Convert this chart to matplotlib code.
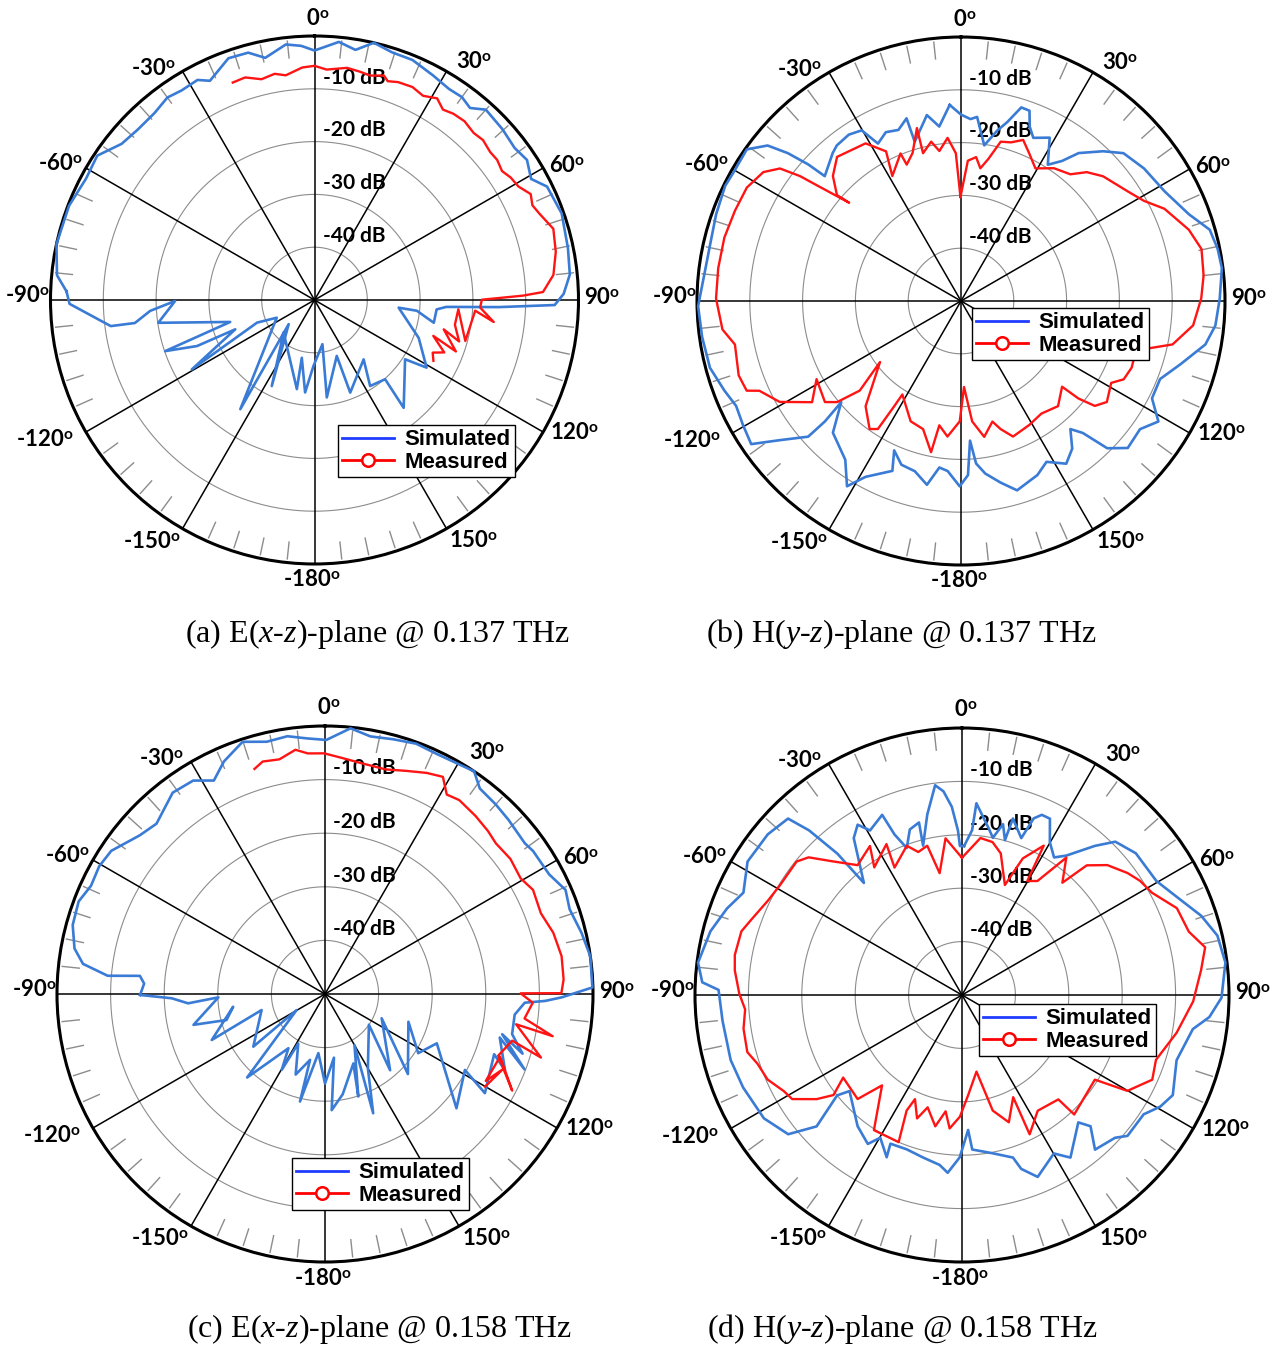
import numpy as np
import matplotlib.pyplot as plt
from matplotlib.lines import Line2D

plt.rcParams['mathtext.fontset'] = 'custom'
plt.rcParams['mathtext.rm'] = 'Lato:bold'
plt.rcParams['mathtext.it'] = 'Liberation Serif:italic'

# ---- data: (angle in deg, level in dB) ----
# (a) E-plane 0.137 THz
a_sim_th = [-88, -84.5, -77.8, -69, -62, -56.4, -51, -46, -40.6, -36, -32.4, -28, -25.5, -19.6, -15,
            -11.5, -6.4, -3, 0, 5.4, 9.3, 13, 17.4, 22.2, 27.8, 32.5, 36, 39, 42, 47.7, 52.8, 56.6,
            60.8, 64, 70.7, 78.4, 84.3, 88.6, 91.2, 92.2, 93, 94.4, 100.8, 96, 95.2, 110, 121.1,
            123.2, 140.4, 138.3, 147.1, 140.4, 158.9, 158.3, 172.8, 169.8, -179.1, -174.2, -167.6,
            -168.8, -136.5, -153.6, -133.1, -145.8, -115.1, -111.5, -119.5, -110.3, -111.4, -108.9,
            -104.6, -98.3, -90.4, -93.8, -97.3, -97.3, -90.9, -88]
a_sim_db = [-3.0, -1.0, 0, -0.2, -1.0, -0.6, -3, -3.5, -3.4, -2.6, -3, -2.8, -4, -1.4, -1.5,
            -3.2, -1.3, -1.8, -2.75, -0.9, -2.0, 0, -0.85, -0.9, -1.9, -2.6, -2.5, -3.2, -1.5, -1.9,
            -2.4, -1.8, -3, -1, -0.4, -1, -1.4, -2.8, -4.5, -15, -25, -26.8, -27, -30.5, -34, -29,
            -25.2, -29.5, -23.5, -29.9, -30.6, -35.4, -31.2, -38.6, -31.4, -41.5, -37.5, -32.4, -38.8,
            -32.8, -41.5, -31.8, -43.3, -25, -42.1, -38.3, -23.3, -34, -26.1, -20.1, -33.5, -20.1,
            -23.6, -18.8, -15.7, -11.1, -3.6, -3.0]
a_meas_th = [-20.6, -17.3, -13.5, -10, -7.3, -3, 0, 3, 8, 11.1, 14, 17.2, 18.5, 21, 24.7, 28, 31.3,
             34, 36.7, 40, 43.6, 46.5, 49.9, 52.5, 55.5, 58, 60.9, 63.9, 66.5, 68.9, 73.4, 78.7, 84,
             88, 88.8, 89.9, 92.6, 97, 93.8, 105.2, 93.7, 100, 106, 102.8, 110, 106.8, 112, 114, 117.1]
a_meas_db = [-6, -5.85, -7, -6.5, -7.1, -5.9, -5.65, -6.3, -5.6, -5.9, -6.2, -5.5, -6.3, -5.8, -5.6,
             -6.2, -5.3, -6.5, -6, -5.8, -6.3, -6.0, -6.5, -6.4, -6.9, -6.2, -5.8, -4.4, -5.0, -4.4,
             -2.8, -3.4, -4.5, -6.7, -10.5, -18.3, -18.6, -15.8, -19.5, -20.4, -22.7, -23.0, -21.5,
             -24.9, -21.5, -26.5, -23.5, -25.5, -24.7]

# (b) H-plane 0.137 THz
b_sim_th = [-3.3, 0, 3, 5, 8.5, 12, 14.5, 17.3, 19.8, 21.5, 23.9, 28.5, 32.5, 35.8, 38.5, 43.5, 47.7,
            54.1, 61.7, 69.2, 74, 78.5, 82.8, 89.5, 95.5, 100.1, 106, 111.4, 117, 121.4, 125.6, 131.4,
            135.2, 137.3, 139.5, 143, 147.1, 152, 156.3, 163.5, 167.7, 172, 174.7, 176.3, 177.7,
            -179.6, -175.5, -172.6, -169.5, -164.8, -160, -155.9, -158, -151.5, -148.4, -143.9,
            -135.8, -130.2, -131.5, -131.6, -127.5, -124.3, -119.6, -115, -110.8, -104.9, -97.9,
            -91.1, -84.4, -77.4, -70.5, -64, -60.8, -54.7, -51.2, -49.5, -48.2, -47.5, -40.9, -38.6,
            -34, -30.2, -27.8, -24, -20.1, -16.6, -16.2, -10.4, -7.1, -3.3]
b_sim_db = [-12.8, -14.7, -15.5, -15.0, -20.2, -17, -15, -11.6, -11.7, -14.5, -16.2, -14.8, -19.4,
            -17.3, -14.2, -10.9, -8.4, -7.2, -6.2, -3.8, -1, -0.4, -0.2, -1, -1.6, -3, -6.7, -9.5,
            -9.4, -6.2, -8.3, -7.9, -10.7, -16, -18.1, -15, -13.3, -15.5, -14, -12.6, -14.8, -17,
            -19.1, -23.5, -17, -14.9, -17.7, -18.2, -14.6, -16.6, -17, -19, -15.3, -12.1, -8.8,
            -12.8, -15.2, -20.3, -15.6, -11.3, -6.7, -1.9, -2.5, -3, -2.1, -0.8, -0.5, -0.2, -1.1,
            -1.3, -0.8, -0.3, -0.5, -0.3, -3, -6.9, -11.2, -15, -12.9, -12.3, -12.0, -12.6, -16.3,
            -15.0, -15.5, -13.9, -18.6, -14.2, -16.7, -12.8]
b_meas_th = [-0.3, 2.8, 6, 8.3, 10.9, 14, 17.5, 21.1, 24.8, 29.3, 35, 40.8, 44.3, 48.7, 56.7, 61.3,
             65.6, 72.6, 77.8, 84, 89.4, 96, 101.6, 105.8, 111.3, 115.7, 118.6, 124.7, 128.1, 129.7,
             130.3, 137.3, 144.5, 151.1, 159, 162.8, 165.4, 170.3, 174.7, 178, -179.4, -174.3,
             -170.1, -168.8, -163.5, -157.3, -147.9, -147.6, -147, -144.5, -137.8, -127, -131.5,
             -129.2, -126.6, -118.4, -124.2, -119.1, -114, -112.7, -108.5, -100.9, -96.8, -89.4,
             -82.3, -75, -68.2, -62.1, -56.9, -53.8, -52.2, -51, -48.7, -49.5, -45.7, -40.7, -31.2,
             -26.6, -28.8, -22.3, -21.7, -18.1, -14.3, -14.4, -10.6, -8.2, -4.7, -2, -0.3]
b_meas_db = [-30.3, -23.4, -22.6, -24.6, -22.6, -18.9, -18.5, -17.3, -19.2, -21.2, -19.3, -18.3,
             -15.9, -14.2, -12.2, -10.5, -7.7, -4.8, -3.4, -3.8, -4.5, -5.8, -9.1, -15.6, -15.3,
             -15.8, -17.6, -16.4, -17.8, -21.1, -24.9, -22.9, -23.8, -23.2, -22.5, -24.6, -26.4,
             -23.9, -27.1, -33.7, -27.2, -24.2, -26.1, -20.8, -24.7, -25.3, -29.1, -26.4, -21.1,
             -20.2, -23.1, -30.8, -24.4, -19.7, -17.9, -18.9, -15.9, -10.7, -8.2, -6, -5.6, -6.4,
             -4.5, -3.6, -3.6, -3.6, -3.9, -4.1, -5.3, -7.5, -11.4, -15.8, -21.8, -19.1, -16.1, -14,
             -15.1, -18.3, -23, -19.8, -22.2, -20.5, -16.2, -21.1, -19.3, -21.3, -19, -22, -30.3]

# (c) E-plane 0.158 THz
c_sim_th = [-90.3, -86.7, -84.4, -85.2, -82.9, -79.7, -74.7, -69.4, -65.2, -60.5, -56.2, -49.4,
            -44.7, -37.1, -31.7, -27.5, -23.5, -18.1, -13, -8.3, -4, 0.3, 5.5, 10, 15, 20, 25, 30,
            33.8, 37, 42, 46.5, 53, 55.5, 61.9, 66.6, 70.9, 76.6, 81.9, 88.6, 90.8, 91.8, 92.5,
            96.2, 102.1, 106.8, 102.8, 110.7, 104, 113, 109.6, 121.8, 118.5, 131, 113.8, 122.4,
            108.4, 134, 113.2, 139.5, 125, 150, 158, 150, 162, 157.8, 170, 176.7, 172, 180,
            -173.6, -166.9, -167.2, -160, -151.6, -150.3, -146, -137, -119.5, -126.3, -104.2,
            -112.1, -97.9, -104.8, -103.2, -91.8, -93.9, -91.6, -90.3]
c_sim_db = [-15.5, -16.2, -15.3, -9.3, -4.5, -2.5, -1.2, -0.9, -1.9, -1.6, -2, -4.5, -5.3, -2.9,
            -3.2, -5.1, -2.7, -0.5, -1.7, -1.4, -2.2, -2.6, -0.2, -1.2, -0.8, -0.3, -0.6, -0.4, 0,
            -2, -2.4, -2.8, -3.3, -2.9, -2.6, -1.1, -1.7, -0.8, 0, -0.1, -5.8, -8.9, -12.7, -14.4,
            -14.3, -11.5, -16.1, -10.2, -16.4, -13.5, -16.5, -14.9, -20.3, -17.5, -27.2, -29.4,
            -33.6, -28.5, -38.5, -31.3, -40, -34, -26, -39, -29.9, -36, -31, -28.3, -38, -33.3,
            -38.9, -29.4, -37.4, -34, -39.5, -33.7, -37.8, -28.7, -43.9, -33.4, -37.8, -27.2,
            -32.7, -31, -24.8, -30.1, -24.4, -21.4, -15.5]
c_meas_th = [-17.4, -15, -11, -6.9, -4.1, -0.2, 3.8, 8.9, 15.1, 20, 24.7, 28.5, 31.4, 34.7, 40.2,
             45, 48.6, 53.9, 59.4, 63.4, 69.5, 75, 80.9, 86.5, 89.8, 89.8, 92.4, 97, 100.5, 99,
             106.4, 104, 109.6, 117.3, 109.7, 118.4, 113, 120.1]
c_meas_db = [-6, -5.1, -5.4, -4.1, -5, -5.1, -5.8, -6.4, -6.6, -5.7, -4.6, -3.9, -6.4, -6, -6.5,
             -7, -7.5, -7.2, -7.6, -6.6, -7, -5.9, -5.3, -5.4, -5.9, -13.5, -11.2, -12.5, -6.8,
             -13.9, -8, -14, -15.7, -10.7, -15.3, -15.9, -14, -15.5]

# (d) H-plane 0.158 THz
d_sim_th = [0.8, 3.5, 4.3, 9.1, 11.1, 13.5, 15.5, 16.1, 20.7, 22.1, 23.9, 26.5, 29.9, 33.8, 36.8,
            41.7, 45, 50.8, 59.6, 65.4, 71.7, 76.9, 83, 90.6, 95.1, 98.4, 106.9, 115.4, 119.4, 123.3,
            130.4, 133, 139.3, 135.6, 137.6, 146.3, 149.9, 157.4, 161.2, 162.6, 169, 176.2, 177.4,
            -179.2, -175.4, -172.5, -166.6, -160.3, -154.3, -155.1, -150.2, -147.7, -141.5, -130.5,
            -128.8, -132.1, -128.7, -121.9, -112.9, -105.7, -96.2, -88.8, -87.2, -83, -75.8, -69.8,
            -64.9, -58.1, -50.4, -44.6, -42.9, -41.4, -41.2, -34.6, -31.5, -29.2, -23.9, -22.8,
            -20.6, -17.5, -14, -14.6, -10.9, -7.3, -5.2, -3.1, -1.4, -0.8, 0.8]
d_sim_db = [-22.1, -19.1, -14, -18.4, -20, -17.1, -19.9, -15.6, -18.6, -14.3, -13.1, -13.1, -17,
            -19, -17.4, -12.6, -9.4, -8, -7.8, -5.8, -2.8, -0.9, -0.3, -1.4, -3.5, -6.3, -8, -6.3,
            -7.4, -9.3, -9.3, -10.8, -11.8, -15.6, -17.7, -13.4, -15.7, -13.1, -15.6, -18.1, -19.8,
            -21, -24.7, -19.6, -16.6, -17.9, -18.7, -19.3, -19.1, -16.5, -19.2, -17, -18.6, -22.3,
            -20, -13.3, -8.3, -6.3, -5.5, -5, -4.9, -4.4, -1.3, -0.2, -1.4, -3.1, -4.8, -2.7, -2.8,
            -3.6, -7.9, -14.7, -22.1, -14.3, -12.6, -14.7, -13.1, -17.4, -20.6, -17.5, -16.7, -21.1,
            -15.6, -10.4, -11.7, -14.7, -19.2, -22.1, -22.1]
d_meas_th = [0, 6.7, 11.3, 15.3, 21.3, 24, 28.7, 29.8, 33.5, 37.2, 41.8, 43.9, 48.2, 53.6, 57.3,
             61.7, 68, 74.4, 78.9, 84.1, 91.6, 100, 108.5, 114, 120.1, 122.5, 136.8, 137.3, 146.8,
             154.1, 153.4, 159.8, 165.1, 169.3, 176.5, -179, -174.7, -172, -168.5, -163, -160,
             -155.7, -154.4, -156.7, -146.9, -138.5, -134.9, -124.8, -127.9, -125.6, -121.5, -118.4,
             -113.5, -108.6, -104.9, -98.8, -93.8, -89.7, -83.8, -80, -73.9, -70.3, -64, -58.8,
             -51.1, -48.1, -43.9, -38.8, -31.7, -34.5, -26.6, -27.9, -20.3, -17, -13.1, -10.4, -6, 0]
d_meas_db = [-24.3, -20.4, -20.8, -22.5, -27.9, -22, -18.1, -25.4, -24.4, -17.7, -21.8, -16.3,
             -13.5, -11.5, -10.4, -9.6, -6.6, -5.9, -3.6, -5, -6.7, -9.2, -11.7, -11, -14.2, -20.5,
             -19.3, -23.4, -24.1, -21, -28.6, -24.6, -27.6, -35.4, -31.2, -27.2, -24.9, -28, -24.9,
             -28, -25.4, -28.6, -26, -20, -19.8, -27.4, -22.4, -22.9, -19.5, -16.5, -12.7, -12.1,
             -10.3, -9.6, -8.4, -8.6, -9.3, -8.3, -7.2, -6.8, -7, -8.1, -9.6, -10.2, -10.2, -11.4,
             -15.3, -18.8, -17.2, -21, -18.4, -23, -20.2, -22, -21.3, -26.8, -20.5, -24.3]

rings = [-40, -30, -20, -10]
angle_ticks = [0, 30, 60, 90, 120, 150, -180, -150, -120, -90, -60, -30]
captions = [r'(a) E($x$-$z$)-plane @ 0.137 THz', r'(b) H($y$-$z$)-plane @ 0.137 THz',
            r'(c) E($x$-$z$)-plane @ 0.158 THz', r'(d) H($y$-$z$)-plane @ 0.158 THz']

# layout (pixels of the 1284x1348 figure)
W, H = 1284, 1348
centers = [(314.5, 300, 264), (961, 301, 264), (325, 994, 268), (962, 995, 267)]
legend_xy = [(338, 425), (972, 308), (292, 1158), (979, 1004)]
caption_xy = [(378, 634), (901, 634), (380, 1329), (902, 1329)]
lab_th = [0.7, 33.8, 62, 89.6, 117, 146.5, -179.5, -146, -117.4, -89.2, -61.7, -34.8]
lab_r = [3.4, 4.3, 4.1, 4.5, 5.4, 4.7, 3.0, 5.1, 7.5, 4.3, 4.7, 3.5]

SIM_C = '#3a7bd5'
MEAS_C = '#ff1414'

fig = plt.figure(figsize=(W / 100, H / 100), dpi=100)

panels = [(a_sim_th, a_sim_db, a_meas_th, a_meas_db),
          (b_sim_th, b_sim_db, b_meas_th, b_meas_db),
          (c_sim_th, c_sim_db, c_meas_th, c_meas_db),
          (d_sim_th, d_sim_db, d_meas_th, d_meas_db)]

full = np.linspace(0, 2 * np.pi, 721)

for k, (sth, sdb, mth, mdb) in enumerate(panels):
    cx, cy, R = centers[k]
    ax = fig.add_axes([(cx - R) / W, 1 - (cy + R) / H, 2 * R / W, 2 * R / H], projection='polar')
    ax.set_theta_zero_location('N')
    ax.set_theta_direction(-1)
    ax.set_ylim(-50, 0)
    ax.set_xticks([])
    ax.set_yticks([])
    ax.grid(False)
    ax.spines['polar'].set_linewidth(2.2)

    for r in rings:
        ax.plot(full, np.full_like(full, r), color='#8c8c8c', lw=0.8, zorder=1)
    for a in range(0, 360, 30):
        ax.plot([np.deg2rad(a)] * 2, [-50, 0], color='black', lw=1.1, zorder=1)
    for a in range(0, 360, 6):
        if a % 30:
            ax.plot([np.deg2rad(a)] * 2, [-3.9, -0.7], color='#8c8c8c', lw=1.0, zorder=1)

    for r in rings:
        ax.annotate('%d dB' % r, xy=(0, r), xytext=(6, 8), textcoords='offset points',
                    ha='left', va='center', fontsize=15, fontweight='bold', family='Lato', zorder=2)

    for a, t, rr in zip(angle_ticks, lab_th, lab_r):
        ax.text(np.deg2rad(t), rr, '%d$^{\\rm o}$' % a, ha='center', va='center', fontsize=16,
                fontweight='bold', family='Lato', clip_on=False)

    ax.plot(np.unwrap(np.deg2rad(sth)), sdb, color=SIM_C, lw=1.9, zorder=4, clip_on=False,
            solid_joinstyle='round')
    ax.plot(np.unwrap(np.deg2rad(mth)), mdb, color=MEAS_C, lw=1.7, zorder=5, clip_on=False,
            solid_joinstyle='round')

    handles = [Line2D([], [], color='#1f3cff', lw=2),
               Line2D([], [], color='red', lw=2, marker='o', mfc='white', mec='red', ms=9, mew=1.8)]
    lx, ly = legend_xy[k]
    leg = fig.legend(handles, ['Simulated', 'Measured'], loc='upper left',
                     bbox_to_anchor=(lx / W, 1 - ly / H), frameon=True, fancybox=False,
                     edgecolor='black', framealpha=1, borderaxespad=0, borderpad=0.2,
                     handlelength=2.3, handletextpad=0.5, labelspacing=0.05,
                     prop={'family': ['Liberation Sans Narrow', 'Liberation Sans'],
                           'weight': 'bold', 'size': 16})
    leg.get_frame().set_linewidth(1.0)

    tx, ty = caption_xy[k]
    fig.text(tx / W, 1 - ty / H, captions[k], ha='center', va='center', fontsize=23,
             family='Liberation Serif')

fig.savefig('out.png', dpi=100)
